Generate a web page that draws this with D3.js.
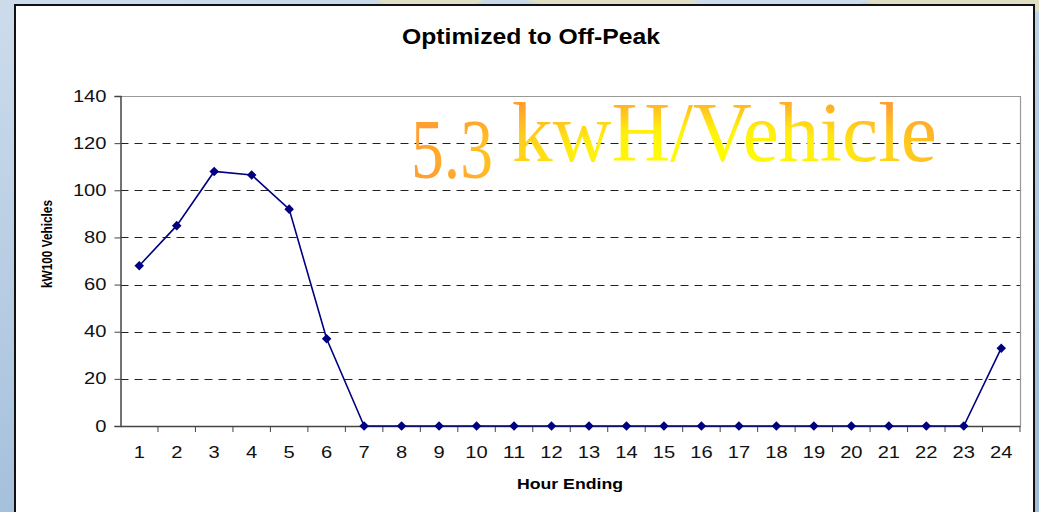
<!DOCTYPE html>
<html lang="en">
<head>
<meta charset="UTF-8">
<title>Optimized to Off-Peak</title>
<script src="https://d3js.org/d3.v7.min.js"></script>
<style>
  html, body { margin: 0; padding: 0; overflow: hidden; }
  text { font-family: Arial, "Liberation Sans", sans-serif; }
</style>
</head>
<body>
<script>
// chart data
const hours = d3.range(1, 25).map(String);
const loadValues = [68, 85, 108, 106.5, 92, 37, 0, 0, 0, 0, 0, 0, 0, 0, 0, 0, 0, 0, 0, 0, 0, 0, 0, 33];
const yTicks = [0, 20, 40, 60, 80, 100, 120, 140];

const width = 1039, height = 512;
const plot = { left: 120.5, right: 1020, top: 96, bottom: 426 };

const svg = d3.select("body").append("svg")
    .attr("width", width)
    .attr("height", height);

const defs = svg.append("defs");

// the source picture is a bit stretched sideways, so widen the text to match
function fit(sel, w) {
  sel.attr("textLength", w).attr("lengthAdjust", "spacingAndGlyphs");
}

// slide background
const bg = defs.append("linearGradient").attr("id", "bg")
    .attr("x1", 0).attr("y1", 0).attr("x2", 0.3).attr("y2", 1);
bg.append("stop").attr("offset", 0).attr("stop-color", "#cddcec");
bg.append("stop").attr("offset", 1).attr("stop-color", "#a2bedb");

const glow = defs.append("radialGradient").attr("id", "glow")
    .attr("cx", 0.56).attr("cy", 0.62).attr("r", 0.55);
glow.append("stop").attr("offset", 0).attr("stop-color", "#ffff00");
glow.append("stop").attr("offset", 0.45).attr("stop-color", "#ffee10");
glow.append("stop").attr("offset", 1).attr("stop-color", "#ffa030");

svg.append("rect").attr("width", width).attr("height", height).attr("fill", "url(#bg)");

// beige arcs peeking at the top edge
const arcs = svg.append("g").attr("fill", "#e2e0c0").attr("opacity", 0.9);
[[430, 60], [650, 140], [1000, 160]].forEach(([cx, rx]) => {
  arcs.append("ellipse").attr("cx", cx).attr("cy", -10).attr("rx", rx).attr("ry", 22);
});
svg.append("ellipse").attr("cx", 780).attr("cy", -2).attr("rx", 90).attr("ry", 12).attr("fill", "#cddcec");

// chart frame
svg.append("rect")
    .attr("x", 15).attr("y", 5)
    .attr("width", 1019).attr("height", 520)
    .attr("fill", "#fff")
    .attr("stroke", "#111")
    .attr("stroke-width", 2);

const x = d3.scaleBand().domain(hours).range([plot.left, plot.right]);
const y = d3.scaleLinear().domain([0, 140]).range([plot.bottom, plot.top]);

// gridlines
svg.append("g")
  .selectAll("line")
  .data(yTicks.filter(d => d > 0 && d < 140))
  .join("line")
    .attr("x1", plot.left).attr("x2", plot.right)
    .attr("y1", d => Math.round(y(d)) + 0.5).attr("y2", d => Math.round(y(d)) + 0.5)
    .attr("stroke", "#222")
    .attr("stroke-dasharray", "8,6");

// plot border (top/right)
svg.append("path")
    .attr("d", `M${plot.left},${plot.top + 0.5}H${plot.right + 0.5}V${plot.bottom}`)
    .attr("fill", "none")
    .attr("stroke", "#999")
    .attr("stroke-width", 1.2);

// big annotation
svg.append("text")
    .attr("x", 411).attr("y", 161)
    .attr("fill", "url(#glow)")
    .style("font-family", "'Liberation Serif', 'DejaVu Serif', serif")
    .style("font-size", "84px")
    .call(t => {
      t.append("tspan").attr("dy", 17).call(fit, 82).text("5.3");
      t.append("tspan").attr("x", 512).attr("dy", -17).call(fit, 425).text("kwH/Vehicle");
    });

// axes
const yAxis = svg.append("g")
    .attr("transform", `translate(${plot.left},0)`)
    .call(d3.axisLeft(y).tickValues(yTicks).tickSize(6).tickPadding(8));
const xAxis = svg.append("g")
    .attr("transform", `translate(0,${plot.bottom})`)
    .call(d3.axisBottom(x).tickSize(0).tickPadding(21));

[yAxis, xAxis].forEach(a => {
  a.select(".domain").attr("stroke", "#444").attr("stroke-width", 1.5);
  a.selectAll(".tick line").attr("stroke", "#444");
  a.selectAll("text")
      .attr("fill", "#111")
      .style("font-size", "16px")
      .style("font-family", "Arial, 'Liberation Sans', sans-serif")
      .each(function() {
        d3.select(this).call(fit, this.textContent.length * 11.2);
      });
});

// category separator ticks below the x-axis
svg.append("g")
  .selectAll("line")
  .data(hours)
  .join("line")
    .attr("x1", d => x(d) + x.bandwidth()).attr("x2", d => x(d) + x.bandwidth())
    .attr("y1", plot.bottom).attr("y2", plot.bottom + 6)
    .attr("stroke", "#444");

// series line
const cx = (d, i) => x(hours[i]) + x.bandwidth() / 2;
svg.append("path")
    .datum(loadValues)
    .attr("d", d3.line().x(cx).y(d => y(d)))
    .attr("fill", "none")
    .attr("stroke", "#000080")
    .attr("stroke-width", 1.6);

svg.append("g")
  .selectAll("path")
  .data(loadValues)
  .join("path")
    .attr("transform", (d, i) => `translate(${cx(d, i)},${y(d)})`)
    .attr("d", d3.symbol(d3.symbolDiamond2, 58))
    .attr("fill", "#000080");

// titles
svg.append("text")
    .attr("x", 531).attr("y", 44)
    .attr("text-anchor", "middle")
    .style("font-size", "22px").style("font-weight", "bold")
    .call(fit, 258)
    .text("Optimized to Off-Peak");

svg.append("text")
    .attr("x", 570).attr("y", 489)
    .attr("text-anchor", "middle")
    .style("font-size", "15px").style("font-weight", "bold")
    .call(fit, 106)
    .text("Hour Ending");

svg.append("text")
    .attr("transform", "translate(52,244) rotate(-90)")
    .attr("text-anchor", "middle")
    .style("font-size", "14px").style("font-weight", "bold")
    .call(fit, 88)
    .text("kW100 Vehicles");
</script>
</body>
</html>
